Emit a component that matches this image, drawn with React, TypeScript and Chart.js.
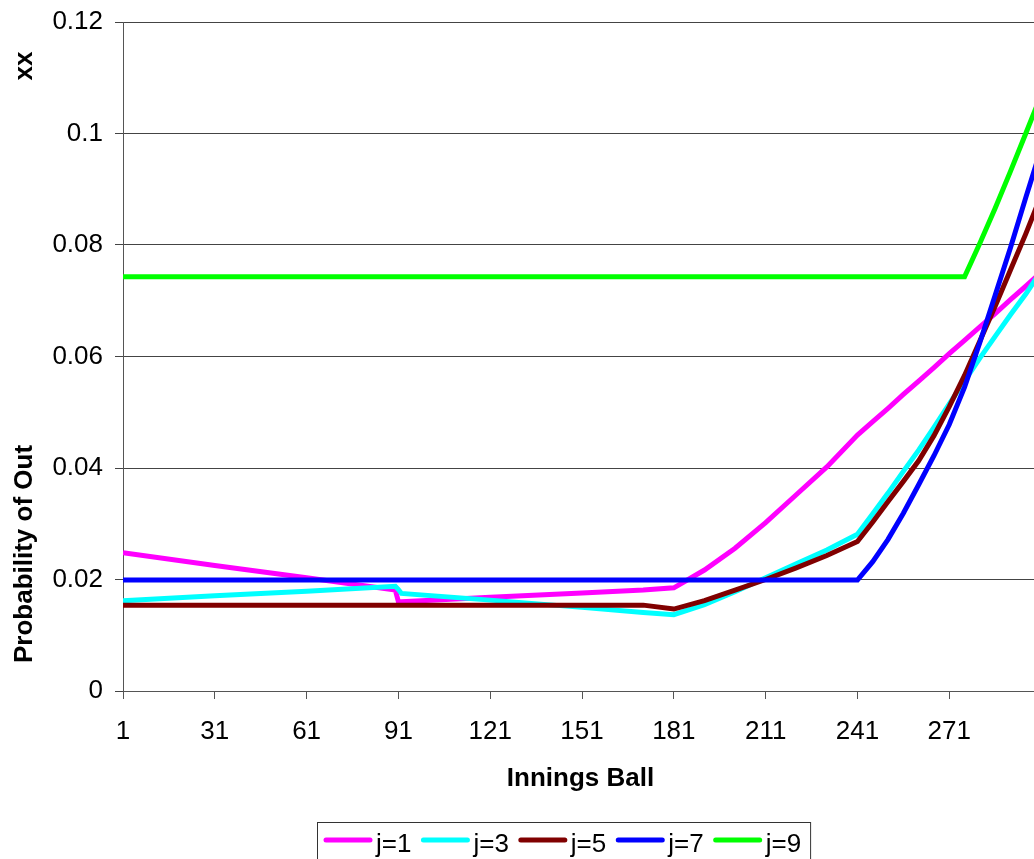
import React, { useEffect, useRef } from "react";
import { Chart, registerables } from "chart.js";

Chart.register(...registerables);

// Innings ball positions at which each curve is sampled
const balls = [1, 31, 61, 90, 91, 92, 121, 151, 171, 181, 191, 201, 211, 221, 231, 241, 246, 251, 256, 261, 266, 271, 276, 281, 286, 291, 296, 300];

const seriesJ1 = [0.0248, 0.0225, 0.0203, 0.0181, 0.016, 0.016, 0.0168, 0.0176, 0.0181, 0.0185, 0.0217, 0.0256, 0.0302, 0.0352, 0.0402, 0.0459, 0.0483, 0.0507, 0.0532, 0.0556, 0.058, 0.0605, 0.0629, 0.0653, 0.0677, 0.0702, 0.0726, 0.0746];
const seriesJ3 = [0.0162, 0.0171, 0.0179, 0.0188, 0.0182, 0.0175, 0.0163, 0.015, 0.0141, 0.0137, 0.0155, 0.0178, 0.0203, 0.0228, 0.0253, 0.0281, 0.0318, 0.0355, 0.0394, 0.0432, 0.0473, 0.0515, 0.0556, 0.0597, 0.0636, 0.0675, 0.0712, 0.0745];
const seriesJ5 = [0.0154, 0.0154, 0.0154, 0.0154, 0.0154, 0.0154, 0.0154, 0.0154, 0.0154, 0.0147, 0.0162, 0.0181, 0.02, 0.0221, 0.0243, 0.0268, 0.0303, 0.034, 0.0376, 0.0413, 0.0458, 0.051, 0.0566, 0.0628, 0.069, 0.0755, 0.082, 0.0875];
const seriesJ7 = [0.0199, 0.0199, 0.0199, 0.0199, 0.0199, 0.0199, 0.0199, 0.0199, 0.0199, 0.0199, 0.0199, 0.0199, 0.0199, 0.0199, 0.0199, 0.0199, 0.0232, 0.0272, 0.0319, 0.037, 0.0422, 0.0478, 0.0545, 0.0625, 0.071, 0.0795, 0.0885, 0.0955];
const seriesJ9 = [0.0743, 0.0743, 0.0743, 0.0743, 0.0743, 0.0743, 0.0743, 0.0743, 0.0743, 0.0743, 0.0743, 0.0743, 0.0743, 0.0743, 0.0743, 0.0743, 0.0743, 0.0743, 0.0743, 0.0743, 0.0743, 0.0743, 0.0743, 0.0803, 0.0866, 0.0932, 0.1, 0.1055];

const seriesLabels = ["j=1", "j=3", "j=5", "j=7", "j=9"];
const seriesColors = ["#FF00FF", "#00FFFF", "#800000", "#0000FF", "#00FF00"];
const seriesValues = [seriesJ1, seriesJ3, seriesJ5, seriesJ7, seriesJ9];

const xTickValues = [1, 31, 61, 91, 121, 151, 181, 211, 241, 271];
const yTickValues = [0, 0.02, 0.04, 0.06, 0.08, 0.1, 0.12];

const xTitle = "Innings Ball";
const yTitle = "Probability of Out";
const cornerNote = "xx";

const FONT = '"Liberation Sans", Arial, Helvetica, sans-serif';

// Axis titles and the boxed legend along the bottom
const decorations = {
  id: "decorations",
  afterDraw(chart: any) {
    const { ctx, chartArea } = chart;
    ctx.save();
    ctx.fillStyle = "#000";

    ctx.font = `bold 26px ${FONT}`;
    ctx.textAlign = "center";
    ctx.textBaseline = "alphabetic";
    ctx.fillText(xTitle, (chartArea.left + chartArea.right) / 2, 786);

    ctx.save();
    ctx.translate(32, 554);
    ctx.rotate(-Math.PI / 2);
    ctx.fillText(yTitle, 0, 0);
    ctx.restore();

    ctx.save();
    ctx.translate(32, 66);
    ctx.rotate(-Math.PI / 2);
    ctx.fillText(cornerNote, 0, 0);
    ctx.restore();

    // legend
    ctx.font = `26px ${FONT}`;
    ctx.textAlign = "left";
    ctx.textBaseline = "middle";
    const boxLeft = 317.5;
    const boxTop = 822.5;
    let x = 324;
    const lineY = 840;
    seriesLabels.forEach((label, i) => {
      ctx.strokeStyle = seriesColors[i];
      ctx.lineWidth = 5;
      ctx.lineCap = "round";
      ctx.beginPath();
      ctx.moveTo(x + 2, lineY);
      ctx.lineTo(x + 46, lineY);
      ctx.stroke();
      ctx.fillText(label, x + 52, 845);
      x += 52 + ctx.measureText(label).width + 10;
    });
    const boxRight = x - 0.5;
    ctx.strokeStyle = "#333";
    ctx.lineWidth = 1;
    ctx.strokeRect(boxLeft, boxTop, boxRight - boxLeft, 60);
    ctx.restore();
  },
};

export default function App() {
  const canvasRef = useRef<HTMLCanvasElement | null>(null);

  useEffect(() => {
    const canvas = canvasRef.current;
    if (!canvas) return;
    const chart = new Chart(canvas, {
      type: "line",
      data: {
        datasets: seriesValues.map((vals, i) => ({
          label: seriesLabels[i],
          data: balls.map((b, k) => ({ x: b, y: vals[k] })),
          borderColor: seriesColors[i],
          backgroundColor: seriesColors[i],
          borderWidth: 5,
          pointRadius: 0,
          tension: 0,
          fill: false,
          order: seriesLabels.length - i,
        })),
      },
      options: {
        responsive: false,
        animation: false,
        devicePixelRatio: 1,
        layout: { padding: { left: 0, top: 22, right: 2, bottom: 0 } },
        plugins: {
          legend: { display: false },
          tooltip: { enabled: false },
          title: { display: false },
        },
        scales: {
          x: {
            type: "linear",
            min: 1,
            max: 300,
            afterBuildTicks: (scale: any) => {
              scale.ticks = xTickValues.map((v) => ({ value: v }));
            },
            afterFit: (scale: any) => {
              scale.height = 168;
              scale.paddingLeft = 0;
              scale.paddingRight = 0;
            },
            ticks: {
              color: "#000",
              font: { family: FONT, size: 26 },
              padding: 17,
              maxRotation: 0,
              autoSkip: false,
              callback: (v: any) => String(v),
            },
            grid: {
              drawOnChartArea: false,
              drawTicks: true,
              tickLength: 8,
              color: "#555",
            },
            border: { color: "#555", width: 1 },
          },
          y: {
            min: 0,
            max: 0.12,
            afterBuildTicks: (scale: any) => {
              scale.ticks = yTickValues.map((v) => ({ value: v }));
            },
            afterFit: (scale: any) => {
              scale.width = 123;
              scale.paddingTop = 0;
              scale.paddingBottom = 0;
            },
            ticks: {
              color: "#000",
              font: { family: FONT, size: 26 },
              padding: 12,
              callback: (v: any) => String(Number(Number(v).toFixed(2))),
            },
            grid: {
              drawOnChartArea: true,
              drawTicks: true,
              tickLength: 8,
              color: "#444",
              lineWidth: 1,
            },
            border: { color: "#555", width: 1 },
          },
        },
      },
      plugins: [decorations],
    });
    return () => chart.destroy();
  }, []);

  return (
    <div
      style={{
        position: "fixed",
        left: 0,
        top: 0,
        width: 1034,
        height: 859,
        overflow: "hidden",
        background: "#fff",
      }}
    >
      <canvas ref={canvasRef} width={1040} height={859} style={{ display: "block" }} />
    </div>
  );
}
